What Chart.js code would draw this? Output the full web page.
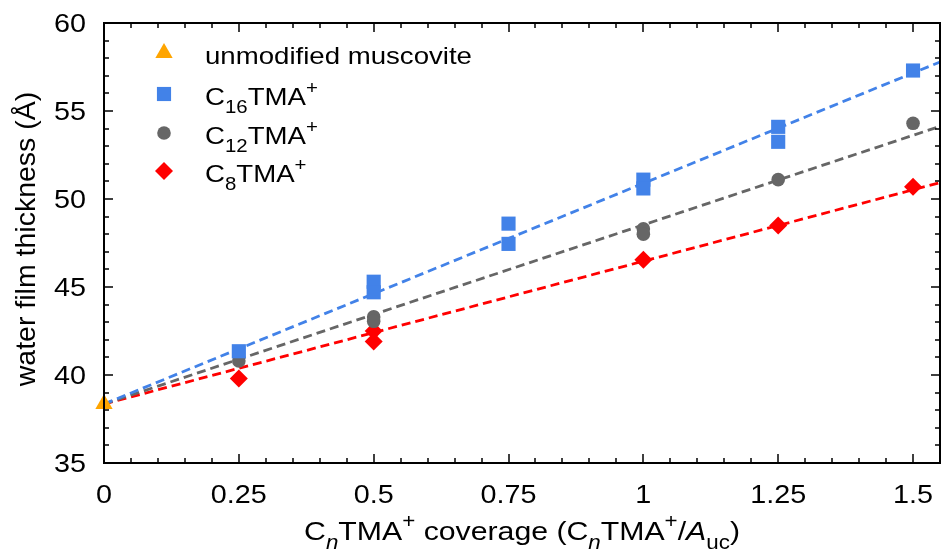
<!DOCTYPE html>
<html>
<head>
<meta charset="utf-8">
<script src="https://cdn.jsdelivr.net/npm/chart.js@4.4.1/dist/chart.umd.min.js"></script>
<style>
html,body{margin:0;padding:0;background:#fff}
canvas{display:block}
</style>
</head>
<body>
<canvas id="grafica" width="941" height="556"></canvas>
<script>

/* DATOS */

const muscoviteX=[0]
const muscoviteY=[38.35]

const c16X=[0.25,0.5,0.5,0.75,0.75,1,1,1.25,1.25,1.5]
const c16Y=[41.35,45.3,44.7,48.6,47.45,51.1,50.6,54.1,53.25,57.3]

const c12X=[0.25,0.5,0.5,1,1,1.25,1.5]
const c12Y=[40.8,43.3,43.05,48.3,48.0,51.1,54.3]

const c8X=[0.25,0.5,0.5,1,1.25,1.5]
const c8Y=[39.8,42.5,41.9,46.55,48.5,50.7]

const xTicks=[0,0.25,0.5,0.75,1,1.25,1.5]
const yTicks=[35,40,45,50,55,60]

const legendLabels=["unmodified muscovite","C_{16}TMA^{+}","C_{12}TMA^{+}","C_{8}TMA^{+}"]
const xTitle="C_{*n*}TMA^{+} coverage (C_{*n*}TMA^{+}/*A*_{uc})"
const yTitle="water film thickness (Å)"

/* ESTILO */

const FUENTE='"Liberation Sans", Arial, sans-serif'
const SX=1.15   // letras algo anchas
const AZUL="#4282E8", GRIS="#666666", ROJO="#FF0000", NARANJA="#FFA500"
const XMAX=1.55

const pts=(xs,ys)=>xs.map((x,i)=>({x:x,y:ys[i]}))

/* ajuste lineal que pasa por la mica sin modificar */
function ajuste(xs,ys){
  const b=muscoviteY[0]
  let num=0,den=0
  xs.forEach((x,i)=>{num+=x*(ys[i]-b);den+=x*x})
  const m=num/den
  return [{x:0,y:b},{x:XMAX,y:b+m*XMAX}]
}

/* TEXTO CON SUB/SUPERINDICES */

function partes(s){
  const out=[],re=/([_^])\{([^}]*)\}|\*([^*]*)\*|([^_^*]+)/g
  let m
  while((m=re.exec(s))){
    if(m[1]){
      let t=m[2],it=false
      if(t[0]==="*"){t=t.slice(1,-1);it=true}
      out.push({t:t,sub:m[1]==="_",sup:m[1]==="^",it:it})
    }
    else if(m[3]!==undefined) out.push({t:m[3],it:true})
    else out.push({t:m[4]})
  }
  return out
}

function fuente(p,size){
  const s=(p.sub||p.sup)?size*0.74:size
  return (p.it?"italic ":"")+s+"px "+FUENTE
}

function texto(ctx,s,x,y,size,align,rot){
  const ps=partes(s)
  ctx.save()
  ctx.translate(x,y)
  if(rot) ctx.rotate(-Math.PI/2)
  else ctx.scale(SX,1)
  let w=0
  ps.forEach(p=>{ctx.font=fuente(p,size);w+=ctx.measureText(p.t).width})
  let cx=align==="center"?-w/2:align==="right"?-w:0
  ctx.textAlign="left"
  ctx.textBaseline="alphabetic"
  ctx.fillStyle="#000"
  ps.forEach(p=>{
    ctx.font=fuente(p,size)
    const dy=p.sub?size*0.33:p.sup?-size*0.46:0
    ctx.fillText(p.t,cx,dy)
    cx+=ctx.measureText(p.t).width
  })
  ctx.restore()
}

/* MARCO, MARCAS Y ETIQUETAS */

const ejes={
  id:"ejes",
  afterDatasetsDraw(chart){
    const ctx=chart.ctx,a=chart.chartArea
    const sx=chart.scales.x,sy=chart.scales.y
    ctx.save()
    ctx.strokeStyle="#000"
    ctx.lineWidth=1.5
    ctx.beginPath()
    for(let v=0;v<=XMAX+1e-9;v+=0.05){
      const px=Math.round(sx.getPixelForValue(v))
      const major=Math.abs(v/0.25-Math.round(v/0.25))<1e-6
      const l=major?9:5
      ctx.moveTo(px,a.bottom);ctx.lineTo(px,a.bottom-l)
      ctx.moveTo(px,a.top);ctx.lineTo(px,a.top+l)
    }
    for(let v=35;v<=60;v++){
      const py=Math.round(sy.getPixelForValue(v))
      const l=v%5===0?9:5
      ctx.moveTo(a.left,py);ctx.lineTo(a.left+l,py)
      ctx.moveTo(a.right,py);ctx.lineTo(a.right-l,py)
    }
    ctx.stroke()
    ctx.lineWidth=2
    ctx.strokeRect(a.left,a.top,a.right-a.left,a.bottom-a.top)
    ctx.restore()

    sx.ticks.forEach(t=>texto(ctx,String(t.value),sx.getPixelForValue(t.value),a.bottom+40,25,"center"))
    sy.ticks.forEach(t=>texto(ctx,String(t.value),86,sy.getPixelForValue(t.value)+9,25,"right"))

    texto(ctx,xTitle,(a.left+a.right)/2,540,26.3,"center")
    texto(ctx,yTitle,35,(a.top+a.bottom)/2-4,28.5,"center",true)

    /* leyenda */
    const filas=[53,94,133,171]
    legendLabels.forEach((lab,i)=>{
      const ds=chart.data.datasets[i]
      ctx.save()
      ctx.fillStyle=ds.backgroundColor
      ctx.strokeStyle=ds.backgroundColor
      Chart.helpers.drawPoint(ctx,{pointStyle:ds.pointStyle,radius:ds.pointRadius,rotation:0,borderWidth:0},164,filas[i])
      ctx.restore()
      texto(ctx,lab,205,filas[i]+11,24,"left")
    })
  }
}

/* GRAFICA */

const punto=(label,data,estilo,color,r)=>({
  type:"scatter",label:label,data:data,pointStyle:estilo,
  backgroundColor:color,borderColor:color,borderWidth:0,
  pointRadius:r,pointHoverRadius:r,clip:false
})

const linea=(data,color)=>({
  type:"line",data:data,borderColor:color,borderWidth:2.8,
  borderDash:[9,5],pointRadius:0,fill:false,tension:0
})

new Chart(document.getElementById("grafica"),{
  data:{
    datasets:[
      punto("unmodified muscovite",pts(muscoviteX,muscoviteY),"triangle",NARANJA,10),
      punto("C16TMA+",pts(c16X,c16Y),"rect",AZUL,10),
      punto("C12TMA+",pts(c12X,c12Y),"circle",GRIS,6.8),
      punto("C8TMA+",pts(c8X,c8Y),"rectRot",ROJO,9),
      linea(ajuste(c16X,c16Y),AZUL),
      linea(ajuste(c12X,c12Y),GRIS),
      linea(ajuste(c8X,c8Y),ROJO)
    ]
  },
  options:{
    responsive:false,
    animation:false,
    devicePixelRatio:1,
    layout:{autoPadding:false,padding:{top:23,right:1,left:0,bottom:0}},
    plugins:{legend:{display:false},tooltip:{enabled:false}},
    scales:{
      x:{
        type:"linear",min:0,max:XMAX,
        grid:{display:false},border:{display:false},
        ticks:{display:false},
        afterBuildTicks:s=>{s.ticks=xTicks.map(v=>({value:v}))},
        afterFit:s=>{s.height=93}
      },
      y:{
        type:"linear",min:35,max:60,
        grid:{display:false},border:{display:false},
        ticks:{display:false},
        afterBuildTicks:s=>{s.ticks=yTicks.map(v=>({value:v}))},
        afterFit:s=>{s.width=104}
      }
    }
  },
  plugins:[ejes]
})

</script>
</body>
</html>
